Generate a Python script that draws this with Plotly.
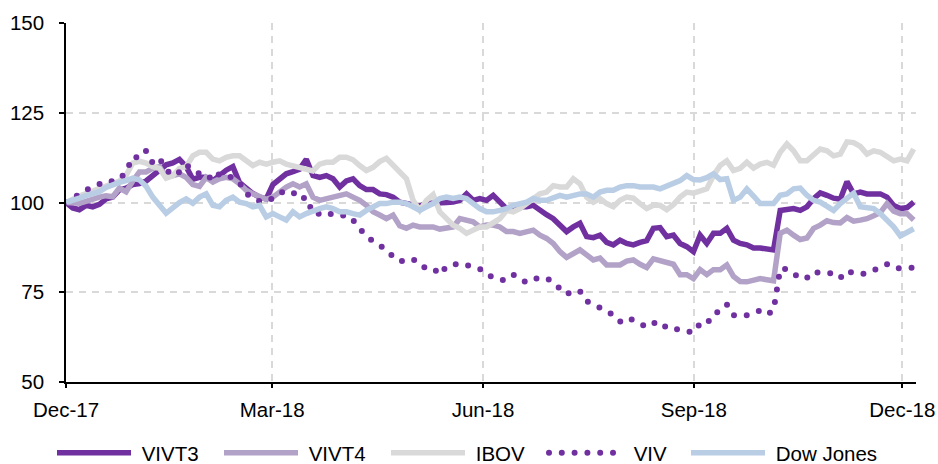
import plotly.graph_objects as go
import pandas as pd

# Sample dates (regular sampling across the chart's time span)
dates = pd.date_range("2017-12-29", "2019-01-03", periods=128)

tick_dates = ["2017-12-29", "2018-03-29", "2018-06-29", "2018-09-29", "2018-12-29"]
tick_labels = ["Dec-17", "Mar-18", "Jun-18", "Sep-18", "Dec-18"]
y_ticks = [50, 75, 100, 125, 150]

vivt3 = [100, 98.5, 98, 99.2, 98.8, 99.5, 101, 101.5, 103.5, 104, 105, 105.3, 106, 107.5, 109, 110.5, 111, 112, 110, 106.5, 107,
         107, 106, 107.5, 109, 110, 105.5, 104, 102.5, 101.5, 101, 105, 106.5, 108, 108.6, 109.3, 112, 107.5, 107, 107.5, 106.6, 104.3, 106,
         106.6, 104.7, 103.6, 103.6, 102.4, 102.2, 101.5, 100.1, 99.7, 99.2, 99, 99.7, 99.7, 99.7, 100, 100.1, 100.6, 102.4, 100.6, 101.1, 100.6,
         102, 100, 98.3, 98.8, 98.8, 98.8, 99.2, 97.8, 96.6, 95.5, 93.5, 91.9, 93.2, 94.2, 90.5, 90.2, 90.9, 88.9, 88.2, 89.5, 88.6,
         88.2, 88.9, 89.4, 92.8, 93, 90.5, 90.9, 88.6, 87.7, 86.3, 90.9, 88.6, 91.4, 91.4, 92.8, 89.5, 88.6, 88.2, 87.3, 87.3, 87.1,
         86.8, 97.8, 98.1, 98.3, 97.8, 98.8, 101.1, 102.7, 102, 101.2, 100.9, 105.8, 102.4, 102.9, 102.4, 102.4, 102.4, 101.5, 99.2, 98.3, 98.6, 100.1]

vivt4 = [100, 100, 99.8, 100.3, 101, 101.5, 101.9, 101.6, 104, 103, 106, 108.5, 108.5, 109.5, 110, 107, 107.5, 108, 107, 105, 104.5,
         107, 105.7, 106.6, 107, 106.6, 105.2, 103.4, 102.4, 101.5, 100.9, 101.5, 103, 104.3, 105.2, 104.3, 105.2, 101.5, 100.6, 101.1, 101.5, 102, 102.4,
         101.5, 100.6, 99.2, 97.4, 96.5, 95.5, 96.5, 93.5, 92.8, 93.7, 93.2, 93.2, 93.2, 92.6, 92.8, 93.2, 95.5, 95.1, 94.6, 93.2, 93.7,
         93.7, 93.2, 91.9, 91.9, 91.4, 91.9, 92.3, 90.9, 90, 88.6, 86.3, 84.7, 85.9, 86.8, 85.4, 84, 84.5, 82.6, 82.6, 82.6, 83.7,
         84, 82.8, 81.9, 84.3, 83.9, 83.4, 82.8, 79.9, 79.9, 78.8, 81.3, 79.9, 81.3, 81.3, 82.6, 79.4, 78, 77.9, 78.5, 78.8, 78.5,
         78.2, 91.4, 92.3, 90.9, 89.7, 90.1, 92.8, 93.7, 94.9, 94.4, 94.3, 95.8, 94.8, 95.1, 95.5, 96.3, 97.2, 99.7, 97.6, 96.9, 96.9, 95.1]

ibov = [100, 101, 101.8, 102.5, 103.3, 104, 104.6, 105.3, 106, 107.5, 111, 111.5, 111, 110, 109.5, 106.8, 107.5, 109.5, 110, 113, 114,
        114, 112.1, 111.6, 112.6, 113, 113, 111.6, 110.3, 111.2, 110.7, 111.2, 111.6, 110.7, 110.3, 109.8, 109.3, 108.8, 110.7, 111.2, 111.2, 112.6, 112.6,
        111.9, 110.3, 108.9, 109.8, 111.4, 112.3, 110.3, 108.4, 106.6, 100.6, 97.8, 100.6, 102.2, 97.4, 95.5, 93.7, 92.8, 91.4, 92.3, 93.2, 93.2,
        94.2, 95.5, 97.8, 97.4, 98.3, 99.7, 101.1, 102.4, 102.9, 104.7, 104.3, 104.3, 106.6, 105.2, 101.5, 100.1, 101.1, 99.7, 98.8, 100.6, 101.5,
        101.2, 99.7, 98.3, 99.2, 99.2, 98, 99.4, 101.5, 102.9, 102.6, 103.1, 103.8, 107.5, 110.3, 111.6, 108.9, 109.5, 111.2, 109.6, 110.7, 111.2,
        110.4, 114, 116.3, 114.4, 111.6, 111.6, 113.5, 114.9, 114.4, 113, 113.5, 116.9, 116.7, 115.6, 113.5, 114.4, 114, 113, 111.6, 112.1, 111.6, 114.9]

viv = [100, 101.2, 102.5, 103.5, 104.2, 105.3, 106, 105.9, 106.5, 108.5, 112.8, 112.4, 114.4, 111, 112.3, 109.2, 107.5, 108.5, 110.5, 109, 108,
       108, 106.1, 108, 107.7, 106.8, 105.5, 102.4, 101.6, 100.3, 100.4, 101.2, 102.6, 103.3, 102.9, 100.9, 101.4, 96.9, 96.9, 97.4, 96.5, 96.2, 96.5,
       95.1, 92.8, 90.5, 89.3, 88.2, 86.8, 84.9, 83.6, 84, 84.3, 82.5, 81.7, 81.7, 79.9, 82.2, 82.8, 83.1, 82.6, 81.9, 81.5, 79.9,
       79, 78.4, 78.5, 79.9, 78.5, 77.8, 78.8, 79, 79, 77.6, 76.2, 74.4, 75.5, 75.3, 72.5, 71.4, 70.7, 69.8, 68.6, 66.8, 67.9,
       67.2, 66.3, 65.3, 66.4, 66.8, 65, 65.1, 64.4, 64, 63.8, 66.3, 66.1, 69, 69.8, 71.6, 68.6, 68.4, 68.6, 69.3, 69.9, 68.8,
       69.9, 81.5, 81.5, 80.3, 78.8, 79, 80.8, 80.3, 80.4, 80.3, 79, 81, 80.3, 80, 80.3, 81, 81.9, 82.8, 81.7, 81.5, 81.7, 81.9]

dow = [100, 100.5, 101.2, 101.9, 102.5, 103, 104.2, 105, 105.6, 106.1, 106.8, 106.3, 104.5, 101.5, 99.5, 97, 98.5, 100, 101, 99.8, 101.5,
       102.4, 99.2, 98.8, 100.6, 101.5, 100.1, 99.7, 98.8, 99.2, 96, 96.9, 96, 95.1, 97.4, 96, 96.9, 97.8, 98.3, 98.8, 98.3, 97.4, 97.4,
       96.9, 96.5, 97.8, 98.8, 99.7, 99.7, 100.1, 100.1, 99.7, 98.8, 97.8, 98.8, 99.7, 101.1, 101.5, 101.1, 101.5, 101.1, 99.7, 98.3, 97.4,
       97.4, 97.8, 98.3, 99.2, 99.7, 100.1, 101.1, 100.6, 100.6, 101.5, 102, 101.5, 102, 102.4, 102.4, 101.5, 102.9, 103.4, 103.4, 104.3, 104.7,
       104.7, 104.3, 104.3, 104.3, 103.8, 104.7, 105.2, 106.1, 107.5, 106.4, 106.3, 106.9, 108, 106.4, 106.6, 100.6, 101.5, 103.8, 101.8, 99.7, 99.7,
       99.7, 102, 102.4, 103.8, 104, 102, 100.6, 100.1, 98.8, 97.8, 99.7, 101.1, 102.6, 98.8, 98.6, 98.3, 96.9, 95.1, 93.2, 90.7, 91.5, 92.7]

series_names = ["VIVT3", "VIVT4", "IBOV", "VIV", "Dow Jones"]
series_values = [vivt3, vivt4, ibov, viv, dow]
series_colors = ["#7030A0", "#B3A2C7", "#D9D9D9", "#7030A0", "#B9CDE5"]
series_dash = ["solid", "solid", "solid", "5px,8px", "solid"]
series_width = [5.5, 5.5, 5.5, 6, 5.5]

legend_ids = ["legend", "legend2", "legend3", "legend4", "legend5"]
legend_x = [52, 219, 386, 544, 686]   # left edge of each legend entry (px)

W, H = 938, 464
fig = go.Figure()
for name, vals, color, dash, lw, lid in zip(series_names, series_values, series_colors,
                                            series_dash, series_width, legend_ids):
    fig.add_trace(go.Scatter(x=dates, y=vals, mode="lines", name="\u00a0" + name, legend=lid,
                             line=dict(color=color, width=lw, dash=dash)))

FONT = "Liberation Sans, Arial, sans-serif"
legend_layout = {}
for lid, lx in zip(legend_ids, legend_x):
    legend_layout[lid] = dict(orientation="h", xref="container", yref="container",
                              x=lx / W, y=1 - 453 / H, xanchor="left", yanchor="middle",
                              font=dict(size=20.5, color="black"), itemwidth=74,
                              bgcolor="rgba(0,0,0,0)")

fig.update_layout(
    width=W, height=H,
    margin=dict(l=66, r=22, t=23, b=82, autoexpand=False),
    paper_bgcolor="white", plot_bgcolor="white",
    font=dict(family=FONT, size=20.5, color="black"),
    showlegend=True,
    **legend_layout,
)
fig.update_xaxes(
    type="date", range=["2017-12-29", "2019-01-04"],
    tickvals=tick_dates, ticktext=tick_labels,
    showgrid=True, gridcolor="#D9D9D9", gridwidth=1.5, griddash="7px,6px",
    showline=True, linecolor="black", linewidth=2,
    ticks="outside", ticklen=4, tickcolor="black", tickwidth=1.5,
    ticklabelstandoff=4,
    zeroline=False,
)
fig.update_yaxes(
    range=[50, 150], tickvals=y_ticks,
    showgrid=True, gridcolor="#D9D9D9", gridwidth=1.5, griddash="7px,6px",
    showline=True, linecolor="black", linewidth=1.5,
    ticks="outside", ticklen=5, tickcolor="black", tickwidth=1.5,
    ticklabelstandoff=11,
    zeroline=False,
)

# page setup: no body margin; round dots for the dotted (VIV) series
post = """
document.body.style.margin='0px';
document.querySelectorAll('path.js-line').forEach(function(p){
  var d = p.style.strokeDasharray;
  if (d && d !== 'none' && d !== '') {
    p.style.strokeLinecap = 'round';
    p.style.strokeDasharray = '0px, 12.8px';
  }
});
"""
fig.write_html("out.html", config={"displayModeBar": False}, post_script=post)
